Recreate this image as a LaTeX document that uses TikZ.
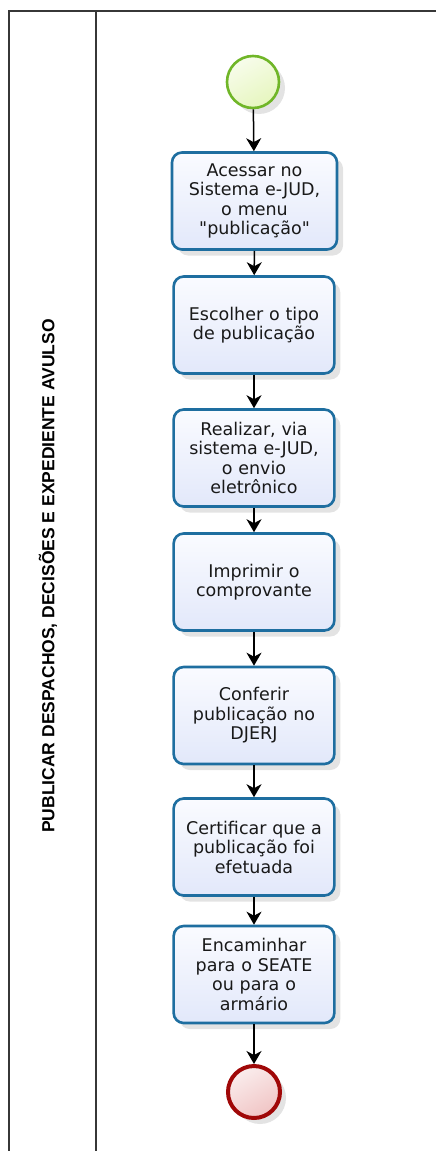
\documentclass[tikz,border=0pt]{standalone}
\usepackage{fontspec}
\setmainfont{DejaVu Sans}[Ligatures=TeXOff]
\newfontfamily\lanefont{Liberation Sans}
\usetikzlibrary{arrows.meta,shadows}

\definecolor{taskline}{RGB}{30,110,160}
\definecolor{tasktop}{RGB}{250,251,255}
\definecolor{taskbot}{RGB}{226,232,250}
\definecolor{startline}{RGB}{112,182,40}
\definecolor{startfill}{RGB}{230,246,190}
\definecolor{endline}{RGB}{160,8,8}
\definecolor{endfill}{RGB}{240,196,196}
\definecolor{poolline}{RGB}{55,55,55}

\begin{document}
\begin{tikzpicture}[x=1pt, y=-1pt,
    task/.style={draw=taskline, line width=2.6pt, rounded corners=10pt,
                 top color=tasktop, bottom color=taskbot,
                 minimum width=158pt, minimum height=97pt, text width=154pt,
                 align=center, text=black!90,
                 font=\fontsize{17.5}{19.5}\selectfont,
                 drop shadow={opacity=0.22, shadow xshift=6pt, shadow yshift=-6pt}},
    event/.style={circle, minimum size=52pt, inner sep=0pt,
                  drop shadow={opacity=0.22, shadow xshift=6pt, shadow yshift=-6pt}},
    flow/.style={draw=black, line width=1.5pt,
                 -{Stealth[length=13pt, width=15pt, inset=4pt]}}]
    \useasboundingbox (0,0) rectangle (436,1151);
    \clip (0,0) rectangle (436,1151);
    % pool and lane
    \draw[poolline, line width=2pt] (460,11) -- (9,11) -- (9,1180)
          (96,11) -- (96,1180);
    \node[rotate=90, font=\lanefont\bfseries\fontsize{17.5}{17.5}\selectfont]
          (lane) at (48,576) {PUBLICAR DESPACHOS, DECISÕES E EXPEDIENTE AVULSO};
    % events
    \node[event, draw=startline, line width=2.6pt, top color=startfill!30,
          bottom color=startfill, shading angle=30] (inicio) at (253,82) {};
    \node[event, draw=endline, line width=4pt, top color=endfill!30,
          bottom color=endfill, shading angle=30] (fim) at (254,1092) {};
    % tasks
    \node[task, minimum width=165pt] (acessar) at (254.5,201)
          {Acessar no\\Sistema e-JUD,\\o menu\\"publicação"};
    \node[task] (escolher) at (254,325) {Escolher o tipo\\de publicação};
    \node[task] (realizar) at (254,458)
          {Realizar, via\\sistema e-JUD,\\o envio\\eletrônico};
    \node[task] (imprimir) at (254,582) {Imprimir o\\comprovante};
    \node[task] (conferir) at (254,715.5) {Conferir\\publicação no\\DJERJ};
    \node[task] (certificar) at (254,847)
          {Certificar que a\\publicação foi\\efetuada};
    \node[task] (encaminhar) at (254,974.5)
          {Encaminhar\\para o SEATE\\ou para o\\armário};
    % sequence flows
    \draw[flow] (inicio) -- (acessar);
    \draw[flow] (acessar) -- (escolher);
    \draw[flow] (escolher) -- (realizar);
    \draw[flow] (realizar) -- (imprimir);
    \draw[flow] (imprimir) -- (conferir);
    \draw[flow] (conferir) -- (certificar);
    \draw[flow] (certificar) -- (encaminhar);
    \draw[flow] (encaminhar) -- (fim);
\end{tikzpicture}
\end{document}
